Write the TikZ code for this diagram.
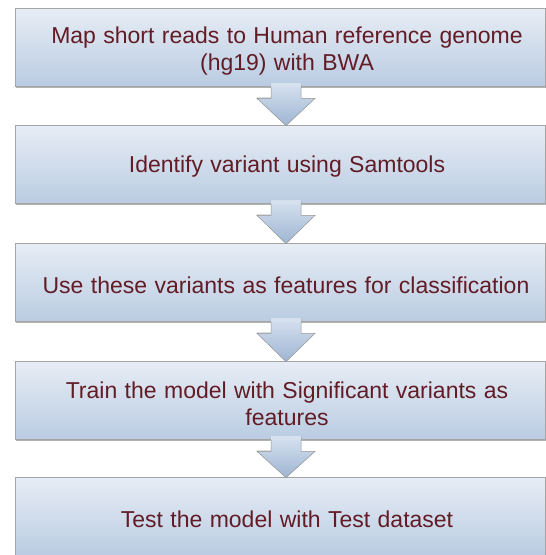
\documentclass[tikz,border=0pt]{standalone}
\usepackage{fontspec}
\setmainfont{Liberation Sans}
\definecolor{boxtop}{RGB}{231,237,245}
\definecolor{boxbot}{RGB}{186,204,226}
\definecolor{boxline}{RGB}{165,165,165}
\definecolor{arrtop}{RGB}{214,225,239}
\definecolor{arrbot}{RGB}{158,181,211}
\definecolor{txt}{RGB}{98,28,38}
\newcommand{\steptextfont}{\fontsize{23}{27}\selectfont\spaceskip=7.4pt\relax}
\tikzset{
  stepbox/.style={minimum width=530pt, minimum height=78pt, inner sep=0pt,
    top color=boxtop, bottom color=boxbot, draw=boxline, line width=0.8pt},
  steptext/.style={text=txt, align=center, inner sep=0pt, font=\steptextfont},
  flowarrow/.style={top color=arrtop, bottom color=arrbot, draw=boxline!90!black, line width=0.5pt, line join=miter}
}
\begin{document}
\begin{tikzpicture}[x=1pt,y=-1pt]
\useasboundingbox (0,0) rectangle (546,555);
\foreach \t in {8,125,243,361,477}{
  \fill[gray!60] (16,\t+78) rectangle (546,\t+80);
}
\node[stepbox] (b1) at (280,47) {};
\node[stepbox] (b2) at (280,164) {};
\node[stepbox] (b3) at (280,282) {};
\node[stepbox] (b4) at (280,400) {};
\node[stepbox] (b5) at (280,516) {};
\node[steptext] (t1) at ([xshift=7pt,yshift=-4pt]b1.center) {Map short reads to Human reference genome\\(hg19) with BWA};
\node[steptext] (t2) at ([xshift=7pt,yshift=-3pt]b2.center) {Identify variant using Samtools};
\node[steptext] (t3) at ([xshift=6pt,yshift=-3pt]b3.center) {Use these variants as features for classification};
\node[steptext] (t4) at ([xshift=7pt,yshift=-4pt]b4.center) {Train the model with Significant variants as\\features};
\node[steptext] (t5) at ([xshift=7pt,yshift=-3pt]b5.center) {Test the model with Test dataset};
\foreach \a/\b in {b1/b2,b2/b3,b3/b4,b4/b5}{
  \coordinate (s) at ([xshift=6pt]\a.south);
  \coordinate (e) at ([xshift=6pt]\b.north);
  \fill[gray!50,opacity=0.5] ([xshift=-29pt,yshift=-14pt]s) -- ([xshift=-15pt,yshift=-14pt]s) -- ([xshift=-15pt,yshift=-11pt]s) -- ([xshift=-29pt,yshift=-11pt]s) -- cycle;
  \shade[flowarrow] ([xshift=-15pt,yshift=3pt]s) -- ([xshift=-15pt,yshift=-12pt]s) -- ([xshift=-29pt,yshift=-12pt]s)
     -- ([yshift=-1pt]e) -- ([xshift=29pt,yshift=-12pt]s) -- ([xshift=15pt,yshift=-12pt]s) -- ([xshift=15pt,yshift=3pt]s);
  \fill[arrtop] ([xshift=-14.6pt,yshift=3pt]s) rectangle ([xshift=14.6pt,yshift=-1pt]s);
}
\end{tikzpicture}
\end{document}
